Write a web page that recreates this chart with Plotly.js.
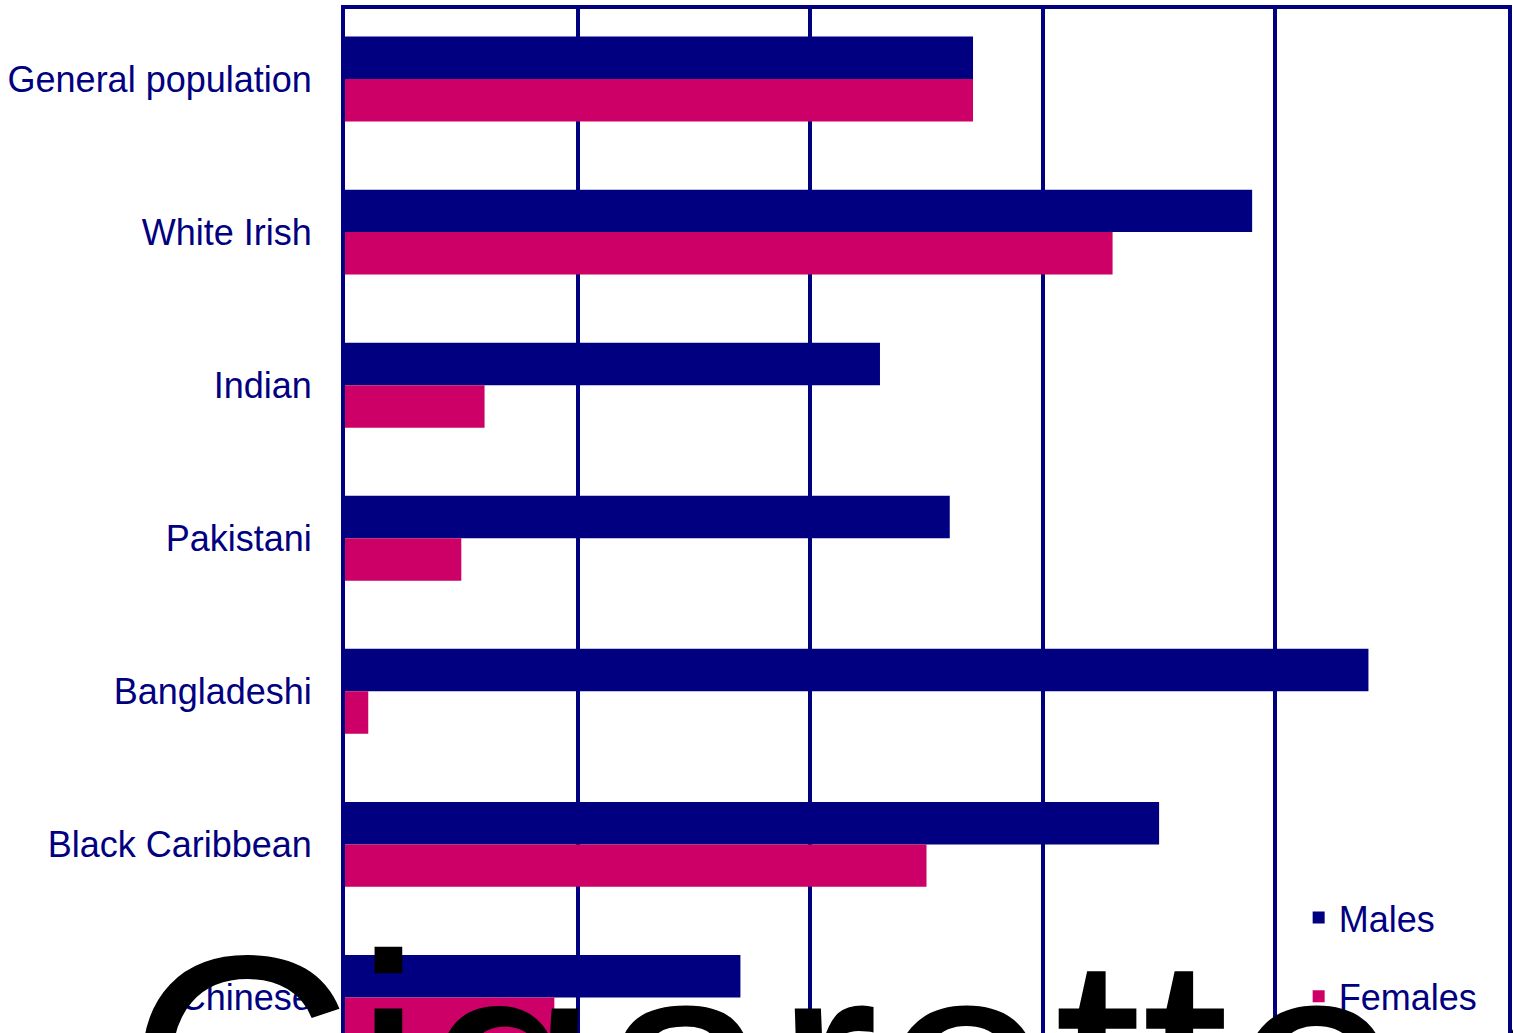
<!DOCTYPE html>
<html>
<head>
<meta charset="utf-8">
<script src="https://cdn.plot.ly/plotly-3.0.1.min.js"></script>
<style>
  html, body { margin: 0; padding: 0; overflow: hidden; background: #ffffff; }
  #chart { width: 1513px; height: 1114px; }
</style>
</head>
<body>
<div id="chart"></div>
<script>
// Categories (top to bottom)
const groups = ["General population", "White Irish", "Indian", "Pakistani", "Bangladeshi", "Black Caribbean", "Chinese"];
// Cigarette smoking prevalence (%)
const males   = [27, 39, 23, 26, 44, 35, 17];
const females = [27, 33, 6, 5, 1, 25, 9];
const seriesNames = ["Males", "Females"];
const bigTitle = "Cigarette smoking by ethnic group";

const navy = "#000080";
const pink = "#CC0066";

const traces = [
  {
    type: "bar", orientation: "h", name: seriesNames[0],
    x: males, y: groups, legendgroup: "m",
    marker: { color: navy, line: { width: 0 } }
  },
  {
    type: "bar", orientation: "h", name: seriesNames[1],
    x: females, y: groups, legendgroup: "f",
    marker: { color: pink, line: { width: 0 } }
  }
];

const layout = {
  width: 1513, height: 1114,
  margin: { l: 345, r: 5, t: 9, b: 40, pad: 0 },
  paper_bgcolor: "#ffffff", plot_bgcolor: "#ffffff",
  barmode: "group", bargap: 0.445, bargroupgap: 0,
  font: { family: "Liberation Sans, Arial, sans-serif", color: navy, size: 36 },
  xaxis: {
    range: [0, 50], dtick: 10, tick0: 0,
    showgrid: true, gridcolor: navy, gridwidth: 4,
    showline: true, linecolor: navy, linewidth: 4, mirror: true,
    zeroline: false, ticks: "", showticklabels: false
  },
  yaxis: {
    type: "category",
    range: [6.5, -0.4575],
    showgrid: false, zeroline: false,
    showline: true, linecolor: navy, linewidth: 4, mirror: true,
    ticks: "", ticklabelstandoff: 22,
    tickfont: { family: "Liberation Sans, Arial, sans-serif", size: 36, color: navy }
  },
  showlegend: true,
  legend: {
    x: 0.82, xanchor: "left", xref: "paper",
    y: 0.175, yanchor: "top", yref: "paper",
    bgcolor: "rgba(255,255,255,0)", borderwidth: 0,
    traceorder: "grouped", tracegroupgap: 29,
    font: { family: "Liberation Sans, Arial, sans-serif", size: 36, color: navy }
  },
  annotations: [
    {
      text: bigTitle, showarrow: false,
      xref: "paper", yref: "paper",
      x: -0.19, xanchor: "left",
      y: 0.1746, yanchor: "top",
      font: { family: "Liberation Sans, Arial, sans-serif", size: 315, color: "#000000" }
    }
  ]
};

Plotly.newPlot("chart", traces, layout, { staticPlot: true, displayModeBar: false });
</script>
</body>
</html>
